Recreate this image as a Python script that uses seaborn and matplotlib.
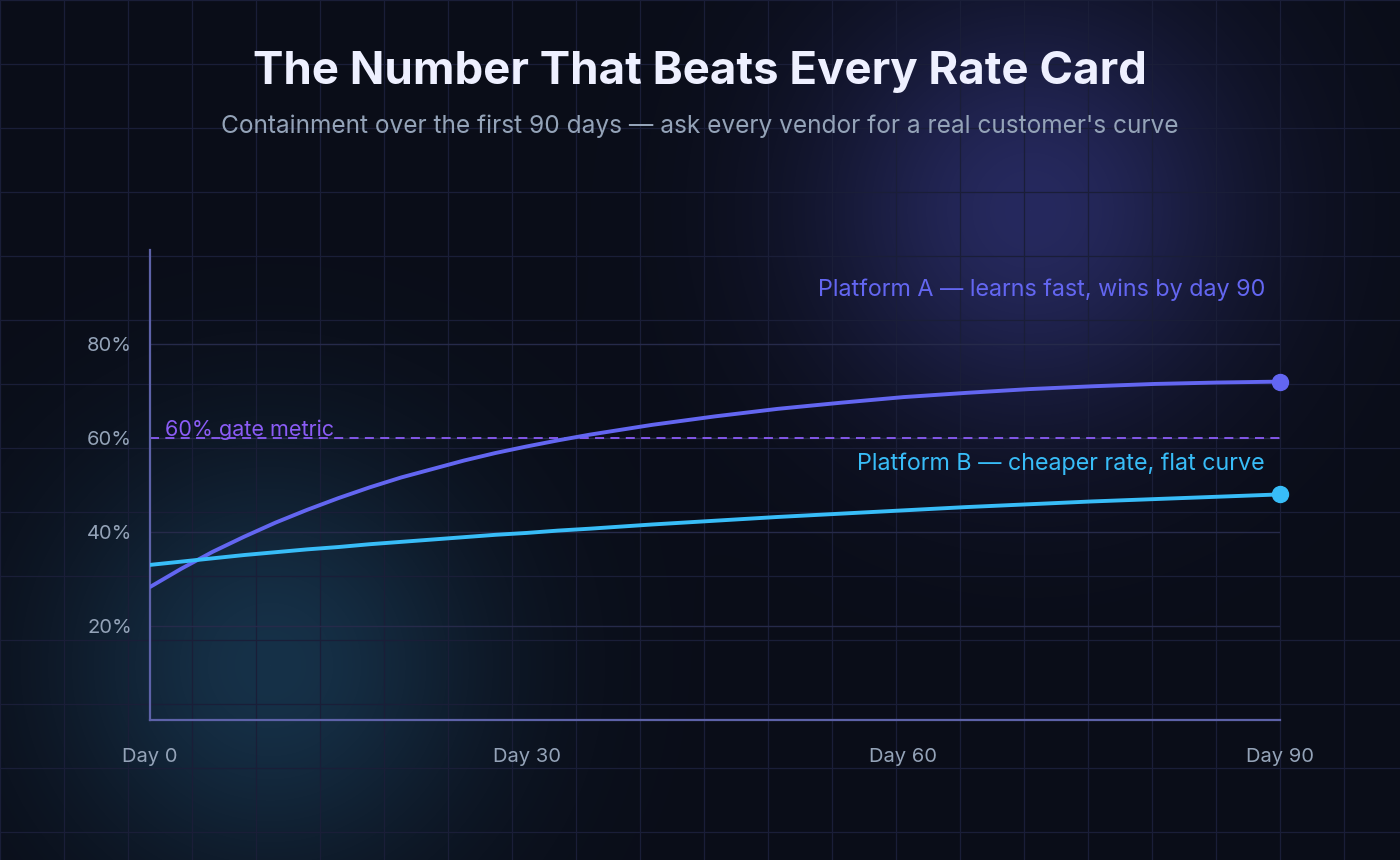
import numpy as np
import pandas as pd
import matplotlib
matplotlib.use("Agg")
import matplotlib.pyplot as plt
import seaborn as sns

# ---- data ----
days = [0, 2.5, 5, 7.5, 10, 12.5, 15, 17.5, 20, 22.5, 25, 27.5, 30, 32.5, 35,
        40, 45, 50, 55, 60, 65, 70, 75, 80, 85, 90]
platform_a = [28.3, 32.2, 35.8, 39.0, 42.0, 44.7, 47.2, 49.5, 51.6, 53.4, 55.2, 56.8, 58.2, 59.5, 60.7,
              62.8, 64.6, 66.2, 67.5, 68.7, 69.6, 70.4, 71.0, 71.5, 71.8, 72.0]
platform_b = [33.0, 33.7, 34.4, 35.1, 35.7, 36.3, 36.8, 37.4, 37.9, 38.4, 38.9, 39.4, 39.8, 40.3, 40.7,
              41.6, 42.4, 43.2, 43.9, 44.6, 45.3, 45.9, 46.5, 47.0, 47.5, 48.0]
series_names = ["Platform A", "Platform B"]
x_ticks = [0, 30, 60, 90]
x_tick_labels = ["Day 0", "Day 30", "Day 60", "Day 90"]
y_ticks = [20, 40, 60, 80]
y_tick_labels = ["20%", "40%", "60%", "80%"]
gate_value = 60

title = "The Number That Beats Every Rate Card"
subtitle = "Containment over the first 90 days \u2014 ask every vendor for a real customer's curve"
label_a = "Platform A \u2014 learns fast, wins by day 90"
label_b = "Platform B \u2014 cheaper rate, flat curve"
label_gate = "60% gate metric"

BG = "#0a0d18"
GRID_BG = "#1a1e38"
GRID_AX = "#262a4a"
COL_A = "#6366f1"
COL_B = "#38bdf8"
COL_GATE = "#8b5cf6"
MUTED = "#94a3b8"

df = pd.DataFrame({
    "day": days * 2,
    "value": platform_a + platform_b,
    "series": [series_names[0]] * len(days) + [series_names[1]] * len(days),
})

sns.set_theme(style="dark")
plt.rcParams["font.family"] = ["Inter", "DejaVu Sans"]

W, H = 1400, 860
fig = plt.figure(figsize=(14, 8.6), dpi=100)
fig.patch.set_facecolor(BG)

# ---- background: soft glows + 64px grid ----
bg = fig.add_axes([0, 0, 1, 1])
bg.set_xlim(0, W)
bg.set_ylim(H, 0)
bg.axis("off")
yy, xx = np.mgrid[0:H, 0:W]
base = np.array([10, 13, 24], dtype=float)
img = np.ones((H, W, 3)) * base
glow_p = np.exp(-(((xx - 1030) ** 2 + (yy - 210) ** 2) / (2 * 150.0 ** 2)))
glow_t = np.exp(-(((xx - 270) ** 2 + (yy - 665) ** 2) / (2 * 150.0 ** 2)))
img += glow_p[..., None] * np.array([28, 28, 70])
img += glow_t[..., None] * np.array([12, 36, 48])
bg.imshow(np.clip(img, 0, 255).astype(np.uint8), extent=(0, W, H, 0), aspect="auto", zorder=0)
for gx in range(0, W + 1, 64):
    bg.axvline(gx, color=GRID_BG, lw=0.9, zorder=1)
for gy in range(0, H + 1, 64):
    bg.axhline(gy, color=GRID_BG, lw=0.9, zorder=1)

# ---- main chart ----
ax = fig.add_axes([150 / W, 1 - 720 / H, 1130 / W, 470 / H])
ax.set_facecolor("none")
ax.set_xlim(0, 90)
ax.set_ylim(0, 100)

for yv in y_ticks:
    ax.axhline(yv, color=GRID_AX, lw=1.0, zorder=1)

ax.axhline(gate_value, color=COL_GATE, lw=1.3, linestyle=(0, (5, 3.5)), zorder=2)

sns.lineplot(data=df, x="day", y="value", hue="series",
             palette={series_names[0]: COL_A, series_names[1]: COL_B},
             linewidth=2.8, legend=False, ax=ax, zorder=3)

ax.plot([days[-1]], [platform_a[-1]], "o", color=COL_A, ms=11.5, clip_on=False, zorder=4)
ax.plot([days[-1]], [platform_b[-1]], "o", color=COL_B, ms=11.5, clip_on=False, zorder=4)

ax.text(88.8, 91.5, label_a, color=COL_A, fontsize=16.8, ha="right", va="center")
ax.text(88.8, 54.5, label_b, color=COL_B, fontsize=16.8, ha="right", va="center")
ax.text(1.2, 60.4, label_gate, color=COL_GATE, fontsize=15.5, ha="left", va="baseline")

ax.set_xticks(x_ticks)
ax.set_xticklabels(x_tick_labels)
ax.set_yticks(y_ticks)
ax.set_yticklabels(y_tick_labels)
ax.tick_params(axis="x", length=0, pad=20, labelsize=14.5, labelcolor=MUTED)
ax.tick_params(axis="y", length=0, pad=13, labelsize=14.5, labelcolor=MUTED)
ax.set_xlabel("")
ax.set_ylabel("")
ax.grid(False)
for side in ["top", "right"]:
    ax.spines[side].set_visible(False)
for side in ["left", "bottom"]:
    ax.spines[side].set_color("#5d62a8")
    ax.spines[side].set_linewidth(1.6)

fig.text(0.5, 1 - 72 / H, title, ha="center", va="center", color="#eef0ff",
         fontsize=32.8, fontweight="bold")
fig.text(0.5, 1 - 126 / H, subtitle, ha="center", va="center", color=MUTED, fontsize=17.6)

fig.savefig("out.png", dpi=100, facecolor=BG)
